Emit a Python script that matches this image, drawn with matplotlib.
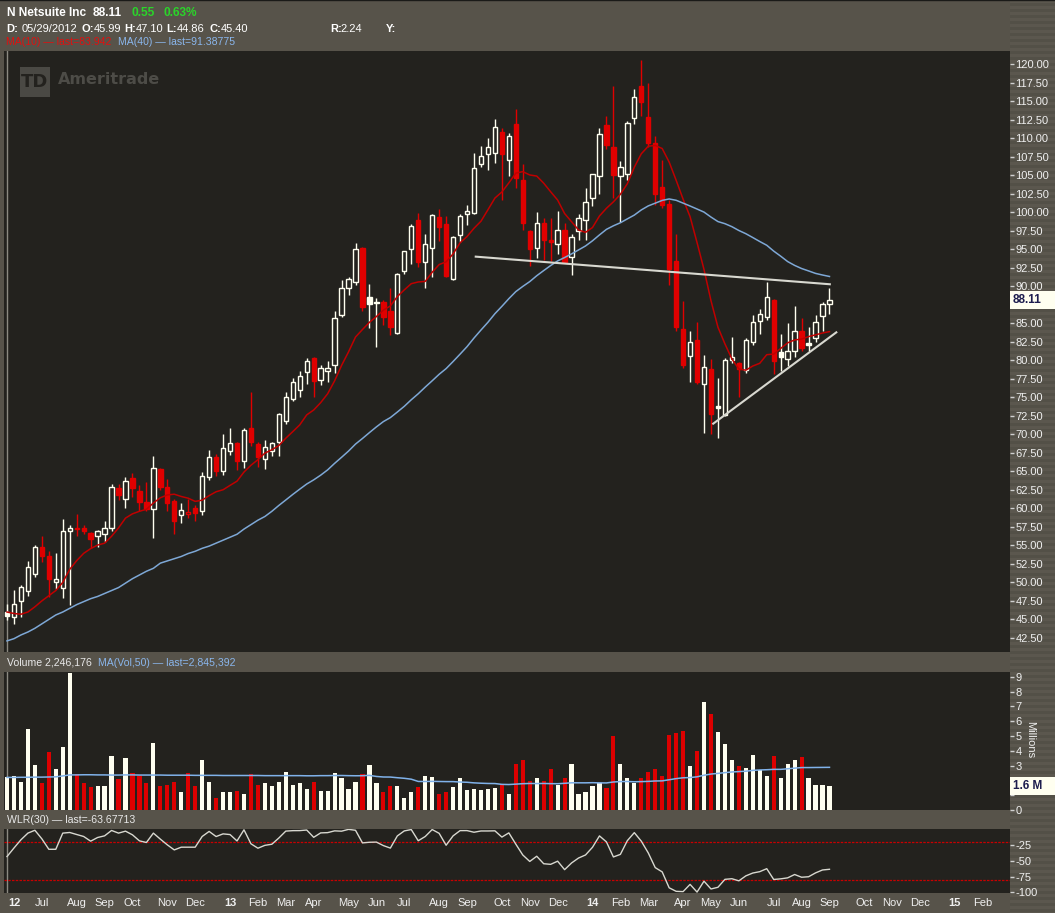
import matplotlib
matplotlib.use('Agg')
import matplotlib.pyplot as plt
from matplotlib.patches import Rectangle
from matplotlib.colors import ListedColormap
from matplotlib.transforms import blended_transform_factory
import numpy as np
import pandas as pd

plt.rcParams['font.family'] = ['Liberation Sans', 'DejaVu Sans']

# weekly bars, first bar is the week of 05/29/2012
opens = [45.99, 45.3, 47.5, 48.9, 51.2, 54.8, 53.6, 50.1, 49.2, 56.9,
         57.4, 57.3, 56.7, 56.2, 56.6, 57.3, 62.7, 61.3, 64.1, 62.4,
         60.9, 59.9, 65.3, 62.9, 61.0, 59.1, 59.3, 60.0, 59.6, 64.2,
         66.9, 65.0, 67.8, 68.8, 66.4, 70.8, 68.7, 66.6, 67.8, 68.9,
         71.8, 74.8, 76.0, 78.4, 80.3, 77.3, 78.6, 79.3, 86.1, 89.7,
         90.6, 95.2, 88.6, 87.9, 87.9, 86.6, 83.7, 92.0, 95.0, 98.9,
         93.2, 95.2, 99.3, 98.4, 91.0, 96.9, 99.8, 99.9, 106.5, 107.8,
         108.0, 110.8, 107.1, 111.9, 104.4, 97.4, 95.1, 98.6, 96.2, 95.7,
         97.6, 93.9, 97.4, 98.9, 101.9, 104.9, 111.7, 108.8, 104.9, 105.2,
         112.7, 117.0, 112.8, 109.4, 103.4, 101.1, 93.4, 84.2, 80.6, 82.8,
         76.8, 78.8, 73.8, 72.6, 80.0, 79.6, 78.7, 82.5, 85.3, 85.9,
         88.2, 81.1, 80.1, 81.2, 84.0, 82.3, 83.0, 86.0, 87.6]
highs = [47.10, 49.0, 49.6, 52.9, 55.0, 56.2, 54.2, 54.0, 58.6, 57.8,
         59.2, 57.7, 56.8, 57.1, 58.3, 63.3, 63.3, 64.2, 64.8, 63.2,
         63.5, 67.1, 65.4, 63.9, 61.2, 60.7, 61.3, 60.4, 64.9, 67.9,
         67.3, 70.0, 70.9, 68.9, 70.8, 75.7, 69.0, 69.2, 69.0, 72.9,
         75.7, 77.6, 78.5, 80.3, 80.4, 79.4, 79.9, 86.6, 90.9, 91.2,
         95.8, 95.3, 90.3, 88.4, 88.1, 89.8, 91.8, 94.8, 98.4, 99.9,
         97.1, 99.7, 100.4, 99.5, 96.8, 99.8, 101.0, 108.0, 108.9, 110.0,
         112.6, 111.4, 110.7, 113.9, 106.5, 97.6, 100.0, 99.2, 99.2, 100.2,
         98.5, 97.1, 99.8, 103.3, 105.2, 111.4, 113.0, 117.0, 106.9, 112.3,
         116.6, 120.6, 117.4, 110.3, 107.1, 101.6, 97.0, 88.0, 83.9, 85.2,
         80.7, 80.1, 77.6, 80.3, 83.2, 79.7, 83.0, 86.1, 86.9, 90.5,
         88.3, 83.5, 85.0, 87.3, 85.7, 84.5, 86.1, 87.9, 89.7]
lows = [44.86, 44.4, 45.3, 48.2, 50.7, 52.8, 48.0, 49.1, 47.9, 47.0,
        56.3, 56.5, 54.6, 54.8, 55.4, 56.9, 61.1, 60.0, 61.5, 59.6,
        59.6, 56.0, 62.5, 59.6, 56.6, 58.0, 58.7, 58.3, 59.1, 63.8,
        64.3, 64.5, 67.2, 65.2, 65.5, 68.4, 65.6, 65.3, 67.1, 67.1,
        71.4, 74.5, 75.1, 76.8, 75.0, 76.6, 77.0, 78.3, 85.8, 88.8,
        90.2, 86.6, 84.3, 81.8, 84.8, 83.4, 83.6, 91.6, 93.0, 92.6,
        89.8, 91.2, 96.1, 91.2, 90.9, 95.9, 98.2, 99.7, 106.1, 105.7,
        106.6, 101.7, 104.9, 103.2, 97.6, 92.7, 93.8, 93.6, 93.4, 94.4,
        93.1, 91.5, 96.2, 96.3, 100.8, 102.4, 108.5, 101.9, 98.7, 104.4,
        111.9, 113.0, 108.8, 101.0, 100.6, 90.1, 83.9, 78.9, 77.0, 76.8,
        70.2, 70.1, 69.5, 72.5, 79.6, 75.1, 78.3, 82.0, 83.6, 85.5,
        78.2, 78.6, 79.2, 80.4, 81.3, 81.3, 82.5, 83.9, 86.3]
closes = [45.40, 47.1, 49.4, 52.1, 54.8, 53.6, 50.4, 50.5, 56.9, 57.4,
          57.2, 56.9, 55.8, 56.9, 57.3, 62.9, 61.8, 63.7, 62.7, 60.8,
          59.9, 65.4, 62.9, 60.7, 58.3, 59.8, 59.5, 59.4, 64.3, 67.0,
          65.1, 68.1, 68.8, 66.4, 70.6, 69.0, 67.0, 68.3, 68.8, 72.7,
          75.0, 77.0, 77.9, 79.9, 77.2, 78.9, 79.0, 85.7, 89.7, 91.0,
          95.0, 87.2, 87.6, 87.7, 85.9, 84.5, 91.7, 94.7, 98.1, 93.3,
          95.7, 99.6, 98.0, 91.4, 96.6, 99.5, 100.1, 105.9, 107.6, 108.8,
          111.5, 107.8, 110.3, 104.6, 98.6, 95.0, 98.6, 96.3, 96.0, 97.6,
          93.3, 96.7, 99.2, 101.4, 105.1, 110.6, 109.0, 105.0, 106.1, 112.0,
          115.5, 114.9, 109.4, 102.5, 100.9, 92.3, 84.5, 79.4, 82.5, 77.0,
          79.1, 72.8, 73.6, 80.0, 80.5, 78.8, 82.8, 85.1, 86.2, 88.6,
          79.9, 80.4, 81.2, 83.9, 81.7, 82.1, 85.2, 87.56, 88.11]
# volume, millions of shares
volumes = [2.25, 2.33, 1.88, 5.45, 3.07, 1.79, 3.89, 2.80, 4.23, 9.23,
           2.46, 1.85, 1.54, 1.61, 1.65, 3.62, 2.12, 3.48, 2.53, 2.33,
           1.79, 4.50, 1.65, 1.72, 1.92, 1.24, 2.53, 1.61, 3.41, 1.92,
           0.83, 1.24, 1.24, 1.31, 1.11, 2.46, 1.72, 1.79, 1.65, 1.92,
           2.60, 1.72, 1.79, 1.45, 1.92, 1.31, 1.31, 2.53, 2.19, 1.45,
           1.92, 2.46, 3.07, 1.79, 1.24, 1.60, 1.65, 0.84, 1.24, 1.58,
           2.33, 2.26, 1.11, 1.24, 1.58, 2.19, 1.38, 1.45, 1.38, 1.45,
           1.51, 1.74, 1.11, 3.08, 3.41, 1.99, 2.19, 1.99, 2.74, 1.72,
           2.13, 3.08, 1.11, 1.24, 1.65, 1.79, 1.51, 4.98, 3.08, 2.13,
           1.79, 2.19, 2.60, 2.74, 2.33, 5.04, 5.18, 5.32, 2.94, 3.96,
           7.28, 6.47, 5.25, 4.43, 3.41, 2.94, 2.87, 3.69, 2.67, 2.33,
           3.62, 2.19, 3.14, 3.35, 3.55, 2.19, 1.68, 1.68, 1.62]

# study values for the first bars (their history is off the chart)
ma10_head = [46.0, 45.8, 45.7, 46.0, 46.7, 47.5, 48.2, 48.9, 50.0]
ma40_head = [42.1, 42.4, 42.9, 43.3, 43.8, 44.4, 45.0, 45.6, 46.0, 46.5,
             47.0, 47.4, 47.8, 48.1, 48.5, 48.9, 49.3, 49.9, 50.5, 51.0,
             51.5, 51.9, 52.6, 52.9, 53.2, 53.5, 53.9, 54.2, 54.6, 54.9,
             55.3, 55.7, 56.1, 56.5, 57.2, 57.8, 58.4, 58.9, 59.6]
volma_head = [2.20, 2.20, 2.21, 2.21, 2.22, 2.22, 2.23, 2.24, 2.30,
              2.37, 2.37, 2.38, 2.38, 2.37, 2.37, 2.36, 2.36, 2.37, 2.37, 2.36,
              2.36, 2.36, 2.36, 2.35, 2.35, 2.35, 2.35, 2.34, 2.34, 2.34, 2.34,
              2.33, 2.33, 2.33, 2.33, 2.33, 2.33, 2.32, 2.32, 2.32, 2.32,
              2.32, 2.32, 2.31, 2.31, 2.32, 2.32, 2.33, 2.33]
wlr_head = [-43.5, -30, -17, -6.5, -2, -15.5, -32, -32, -6.5, -5.5,
            -8.7, -11.8, -19.2, -13.4, -10.8, -2.3, -6.5, -3.4, -9.2, -18.7,
            -21.3, -6.5, -16, -25, -33, -28.7, -28.7, -28.7, -11.8]

# hand drawn trend lines: (bar, price)
neckline = [(67.1, 94.0), (118.2, 90.25)]
support = [(101.2, 71.35), (119.1, 83.85)]

price_ticks = np.arange(42.5, 120.01, 2.5)
vol_ticks = list(range(10))
wlr_ticks = [-25, -50, -75, -100]

W, H = 1055, 913
BG = '#23221e'
STRIP = '#57534a'
CREAM = '#fffff0'
RED = '#e00000'
TXT = '#f0f0f0'
BLUE = '#8ab6ec'
HDR = 7.6


def fx(px):
    return px / W


def fy(py):
    return 1 - py / H


n = len(closes)
idx = np.arange(n)
o, h, l, c = (np.array(a) for a in (opens, highs, lows, closes))
prev = np.r_[c[0] - 1, c[:-1]]
col = np.where(c >= prev, CREAM, RED)
face = np.where(c < o, col, BG)

ma10 = pd.Series(c).rolling(10).mean().to_numpy()
ma10[:len(ma10_head)] = ma10_head
ma40 = pd.Series(c).rolling(40).mean().to_numpy()
ma40[:len(ma40_head)] = ma40_head
volma = pd.Series(volumes).rolling(50).mean().to_numpy()
volma[:len(volma_head)] = volma_head
hh = pd.Series(h).rolling(30).max()
ll = pd.Series(l).rolling(30).min()
wlr = (-100 * (hh - c) / (hh - ll)).to_numpy()
wlr[:len(wlr_head)] = wlr_head

dates = pd.date_range('2012-05-28', periods=144, freq='7D')
xt, xl = [], []
for i in range(1, len(dates)):
    if dates[i].month != dates[i - 1].month:
        xt.append(i)
        if dates[i].month == 1 or not xl:
            xl.append(dates[i].strftime('%y'))
        else:
            xl.append(dates[i].strftime('%b'))

fig = plt.figure(figsize=(W / 100, H / 100), dpi=100, facecolor=STRIP)

# striped right-hand scale column
ax_s = fig.add_axes([fx(1010), 0, fx(45), 1], zorder=0)
ax_s.imshow(((np.arange(H) // 3) % 2)[:, None], aspect='auto',
            cmap=ListedColormap(['#5b574e', '#535047']), interpolation='nearest')
ax_s.axis('off')

left, width = fx(4), fx(1006)
ax_p = fig.add_axes([left, fy(652), width, fy(51) - fy(652)], zorder=2)
ax_v = fig.add_axes([left, fy(810), width, fy(672) - fy(810)], zorder=2)
ax_w = fig.add_axes([left, fy(893), width, fy(829) - fy(893)], zorder=2)

for ax in (ax_p, ax_v, ax_w):
    ax.set_facecolor(BG)
    for s in ax.spines.values():
        s.set_visible(False)
    ax.set_xlim(-0.43, 143.9)
    ax.tick_params(axis='y', left=False, labelleft=False, right=True, labelright=True,
                   length=3, width=1, color='#d0d0d0', labelcolor=TXT, labelsize=8, pad=1)
    ax.axvline(0, color='#8c8a82', lw=1, zorder=1)

# price panel
ax_p.vlines(idx, l, h, colors=col, lw=1, zorder=3)
ax_p.bar(idx, np.maximum(np.abs(c - o), 0.12), bottom=np.minimum(o, c), width=0.62,
         color=face, edgecolor=col, linewidth=1.0, zorder=4)
ax_p.plot(idx, ma10, color='#c00000', lw=1.1, zorder=5)
ax_p.plot(idx, ma40, color='#7ea8d6', lw=1.1, zorder=5)
for seg in (neckline, support):
    xs, ys = zip(*seg)
    ax_p.plot(xs, ys, color='#d8d8d0', lw=1.5, zorder=6, solid_capstyle='butt')
ax_p.set_ylim(40.6, 121.76)
ax_p.set_yticks(price_ticks)
# the label under the last-price box is hidden, as on the scale in the source
ax_p.set_yticklabels(['' if abs(v - c[-1]) < 1.3 else f'{v:.2f}' for v in price_ticks])
ax_p.set_xticks([])

# volume panel
ax_v.bar(idx, volumes, width=0.6, color=np.where(col == RED, '#dd0000', CREAM), zorder=3)
ax_v.plot(idx, volma, color='#80b2ea', lw=1.1, zorder=4)
ax_v.set_ylim(0, 9.32)
ax_v.set_yticks(vol_ticks)
ax_v.set_yticklabels(['' if abs(v - volumes[-1]) < 0.7 else str(v) for v in vol_ticks])
ax_v.set_xticks([])

# Williams %R panel
ax_w.plot(idx, wlr, color='#d8d8d0', lw=1, zorder=4)
for lvl in (-20, -80):
    ax_w.axhline(lvl, color='#c80000', lw=0.9, ls=(0, (2, 1)), zorder=3)
ax_w.set_ylim(-101, 0)
ax_w.set_yticks(wlr_ticks)
ax_w.set_yticklabels([str(v) for v in wlr_ticks])
ax_w.set_xticks(xt)
ax_w.set_xticklabels(xl)
ax_w.tick_params(axis='x', length=0, pad=3.5, labelsize=8, labelcolor=TXT)
for lbl in ax_w.get_xticklabels():
    if lbl.get_text().isdigit():
        lbl.set_fontweight('bold')

# last value boxes on the scale
tp = blended_transform_factory(fig.transFigure, ax_p.transData)
fig.add_artist(Rectangle((fx(1010), c[-1] - 1.2), fx(45), 2.4, transform=tp,
                         facecolor=CREAM, edgecolor='none', zorder=10))
fig.text(fx(1013), c[-1], f'{c[-1]:.2f}', transform=tp, va='center', ha='left',
         fontsize=8.5, fontweight='bold', color='#1d1d4e', zorder=11)
tv = blended_transform_factory(fig.transFigure, ax_v.transData)
fig.add_artist(Rectangle((fx(1010), volumes[-1] - 0.6), fx(45), 1.2, transform=tv,
                         facecolor=CREAM, edgecolor='none', zorder=10))
fig.text(fx(1013), volumes[-1], f'{volumes[-1]:.1f} M', transform=tv, va='center',
         ha='left', fontsize=8.5, fontweight='bold', color='#1d1d4e', zorder=11)
fig.text(fx(1030), fy(740), 'Millions', rotation=270, va='center', ha='center',
         fontsize=8, color=TXT)

# header
fig.add_artist(plt.Line2D([0, 1], [fy(0.5), fy(0.5)], color='#1a1a18', lw=1))
fig.text(fx(6.7), fy(12.7), 'N Netsuite Inc', va='center', fontsize=8.6, fontweight='bold', color='white')
fig.text(fx(93), fy(12.7), '88.11', va='center', fontsize=8.6, fontweight='bold', color='white')
fig.text(fx(131.7), fy(12.7), '0.55', va='center', fontsize=8.6, fontweight='bold', color='#2ad52a')
fig.text(fx(164), fy(12.7), '0.63%', va='center', fontsize=8.6, fontweight='bold', color='#2ad52a')
line2 = [('D:', 6.7, True), ('05/29/2012', 21.7, False), ('O:', 81.7, True), ('45.99', 93.3, False),
         ('H:', 124.3, True), ('47.10', 136, False), ('L:', 166.7, True), ('44.86', 176.7, False),
         ('C:', 209, True), ('45.40', 221, False), ('R:', 330, True), ('2.24', 340.7, False),
         ('Y:', 386, True)]
for s, xp, b in line2:
    fig.text(fx(xp), fy(29), s, va='center', fontsize=8,
             fontweight='bold' if b else 'normal', color='white')
fig.text(fx(6), fy(42.3), 'MA(10) \u2014 last=83.942', va='center', fontsize=HDR, color='#e01010')
fig.text(fx(118.3), fy(42.3), 'MA(40) \u2014 last=91.38775', va='center', fontsize=HDR, color=BLUE)
fig.text(fx(6.7), fy(662.5), 'Volume 2,246,176', va='center', fontsize=HDR, color='#e8e8e8')
fig.text(fx(97.7), fy(662.5), 'MA(Vol,50) \u2014 last=2,845,392', va='center', fontsize=HDR, color=BLUE)
fig.text(fx(6.7), fy(820), 'WLR(30) \u2014 last=-63.67713', va='center', fontsize=HDR, color='#e8e8e8')

# watermark
fig.add_artist(Rectangle((fx(20), fy(97)), fx(30), 30 / H, facecolor='#4a4944',
                         edgecolor='none', zorder=3))
fig.text(fx(35), fy(82), 'TD', ha='center', va='center', fontsize=13, fontweight='bold',
         color=BG, family='DejaVu Sans', zorder=4)
fig.text(fx(58), fy(79), 'Ameritrade', va='center', fontsize=11.5, fontweight='bold',
         color='#4d4c47', family='DejaVu Sans', zorder=4)

fig.savefig('out.png', dpi=100, facecolor=STRIP)
